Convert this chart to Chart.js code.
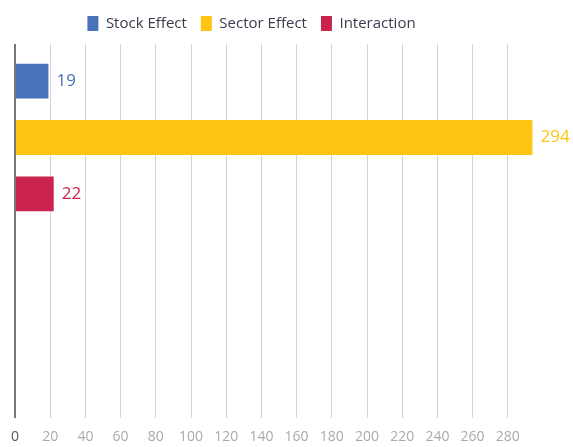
<!DOCTYPE html>
<html>
<head>
<meta charset="utf-8">
<script src="https://cdn.jsdelivr.net/npm/chart.js@4/dist/chart.umd.min.js"></script>
<style>
  html, body { margin: 0; padding: 0; background: #fff; }
  canvas { display: block; }
</style>
</head>
<body>
<canvas id="c" width="573" height="447"></canvas>
<script>
// Attribution components
const categories = ['', ''];
const stockEffect = [19, null];
const sectorEffect = [294, null];
const interaction = [22, null];
const xTickValues = [0, 20, 40, 60, 80, 100, 120, 140, 160, 180, 200, 220, 240, 260, 280];

const FONT = '"Open Sans", "Noto Sans", sans-serif';

// Writes each bar's value just past its end, in the bar's colour
const valueLabels = {
  id: 'valueLabels',
  afterDatasetsDraw(chart) {
    const ctx = chart.ctx;
    ctx.save();
    ctx.font = '17px ' + FONT;
    ctx.textBaseline = 'middle';
    ctx.textAlign = 'left';
    chart.data.datasets.forEach((ds, i) => {
      const meta = chart.getDatasetMeta(i);
      meta.data.forEach((bar, j) => {
        const v = ds.data[j];
        if (v === null || v === undefined) return;
        ctx.fillStyle = ds.backgroundColor;
        ctx.fillText(String(v), bar.x + 8, bar.y);
      });
    });
    ctx.restore();
  }
};

// Extra room under the legend, and the legend row nudged to the left
const legendPlacement = {
  id: 'legendPlacement',
  beforeInit(chart) {
    const legend = chart.legend;
    const fit = legend.fit;
    legend.fit = function () {
      fit.call(this);
      this.height += 3;
    };
  },
  afterLayout(chart) {
    const legend = chart.legend;
    legend.left -= 26;
    legend.right -= 26;
  }
};

new Chart(document.getElementById('c'), {
  type: 'bar',
  data: {
    labels: categories,
    datasets: [
      { label: 'Stock Effect', data: stockEffect, backgroundColor: '#4873b9' },
      { label: 'Sector Effect', data: sectorEffect, backgroundColor: '#fec513' },
      { label: 'Interaction', data: interaction, backgroundColor: '#c9234e' }
    ]
  },
  options: {
    indexAxis: 'y',
    responsive: false,
    animation: false,
    datasets: { bar: { categoryPercentage: 0.904, barPercentage: 0.62 } },
    layout: { padding: { left: 12, right: 30, top: 2, bottom: 0 } },
    plugins: {
      legend: {
        position: 'top',
        labels: {
          boxWidth: 11,
          boxHeight: 15,
          padding: 14,
          color: '#3b3b4b',
          font: { family: FONT, size: 15 }
        }
      },
      tooltip: { enabled: false }
    },
    scales: {
      x: {
        type: 'linear',
        min: 0,
        max: 300,
        afterBuildTicks(scale) {
          scale.ticks = xTickValues.map(v => ({ value: v }));
        },
        afterFit(scale) {
          scale.height = 29;
        },
        grid: {
          drawTicks: false,
          color: c => (c.tick && c.tick.value === 0) ? '#777777' : '#d4d4d4',
          lineWidth: c => (c.tick && c.tick.value === 0) ? 2 : 1
        },
        border: { display: false },
        ticks: {
          padding: 11,
          color: c => (c.tick && c.tick.value === 0) ? '#5a5a5a' : '#aaaaaa',
          font: { family: FONT, size: 14 }
        }
      },
      y: {
        display: false,
        grid: { display: false }
      }
    }
  },
  plugins: [valueLabels, legendPlacement]
});
</script>
</body>
</html>
